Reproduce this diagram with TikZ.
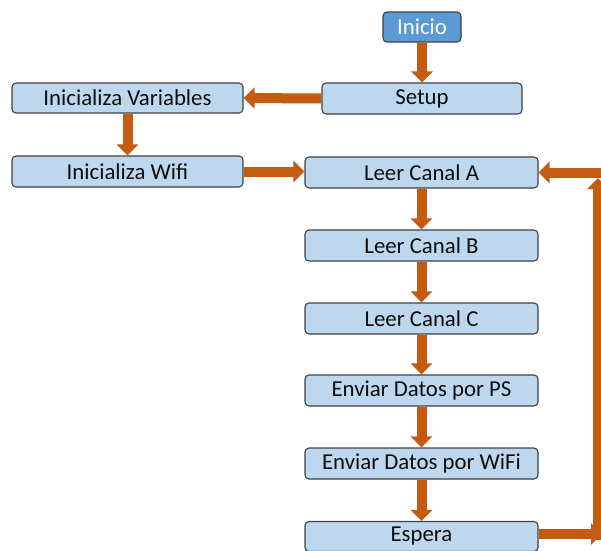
\documentclass[tikz,border=0pt]{standalone}
\usepackage{fontspec}
\setmainfont{Carlito}
\usetikzlibrary{arrows.meta}
\definecolor{boxfill}{HTML}{BDD7EE}
\definecolor{startfill}{HTML}{5B9BD5}
\definecolor{boxline}{HTML}{404040}
\definecolor{arrowc}{HTML}{C55A11}
\definecolor{txt}{HTML}{0D0D0D}
\tikzset{
  procbox/.style={draw=boxline, line width=1.1pt, fill=boxfill, rounded corners=4pt,
    inner sep=0pt, minimum height=31pt, text=txt, font=\fontsize{22.8}{25}\selectfont},
  startbox/.style={procbox, fill=startfill, text=white, minimum width=78pt, minimum height=30pt},
  blockarrow/.style={draw=arrowc, line width=10pt, -{Triangle[length=11pt,width=21pt]}}
}
\begin{document}
\begin{tikzpicture}[x=1pt,y=-1pt]
\useasboundingbox (0,0) rectangle (601,550);
\clip (0,0) rectangle (601,550);
\node[startbox] (inicio) at (422,27) {Inicio};
\node[procbox, minimum width=200pt] (setup) at (422,98.5) {Setup};
\node[procbox, minimum width=231pt, minimum height=30pt] (iv) at (127.5,98) {Inicializa Variables};
\node[procbox, minimum width=231pt] (iw) at (127.5,171.5) {Inicializa Wifi};
\node[procbox, minimum width=233pt] (la) at (421.5,172.5) {Leer Canal A};
\node[procbox, minimum width=233pt] (lb) at (421.5,245.5) {Leer Canal B};
\node[procbox, minimum width=233pt] (lc) at (421.5,318.5) {Leer Canal C};
\node[procbox, minimum width=233pt] (eps) at (421.5,390.5) {Enviar Datos por PS};
\node[procbox, minimum width=233pt] (ewf) at (421.5,463.5) {Enviar Datos por WiFi};
\node[procbox, minimum width=233pt, minimum height=30pt] (esp) at (421.5,536.5) {Espera};
\coordinate (r1) at (602,534);
\coordinate (v1) at (598,540);
\coordinate (v2) at (598,178);
\coordinate (r2) at (610,172.5);
\draw[blockarrow] (inicio.south) -- (setup.north);
\draw[blockarrow] (setup.west) -- (iv.east);
\draw[blockarrow] (iv.south) -- (iw.north);
\draw[blockarrow] (iw.east) -- (iw.east -| la.west);
\draw[blockarrow] (la.south) -- (lb.north);
\draw[blockarrow] (lb.south) -- (lc.north);
\draw[blockarrow] (lc.south) -- (eps.north);
\draw[blockarrow] (eps.south) -- (ewf.north);
\draw[blockarrow] (ewf.south) -- (esp.north);
\draw[blockarrow] (esp.east |- r1) -- (r1);
\draw[blockarrow] (v1) -- (v2);
\draw[blockarrow] (r2) -- (r2 -| la.east);
\end{tikzpicture}
\end{document}
